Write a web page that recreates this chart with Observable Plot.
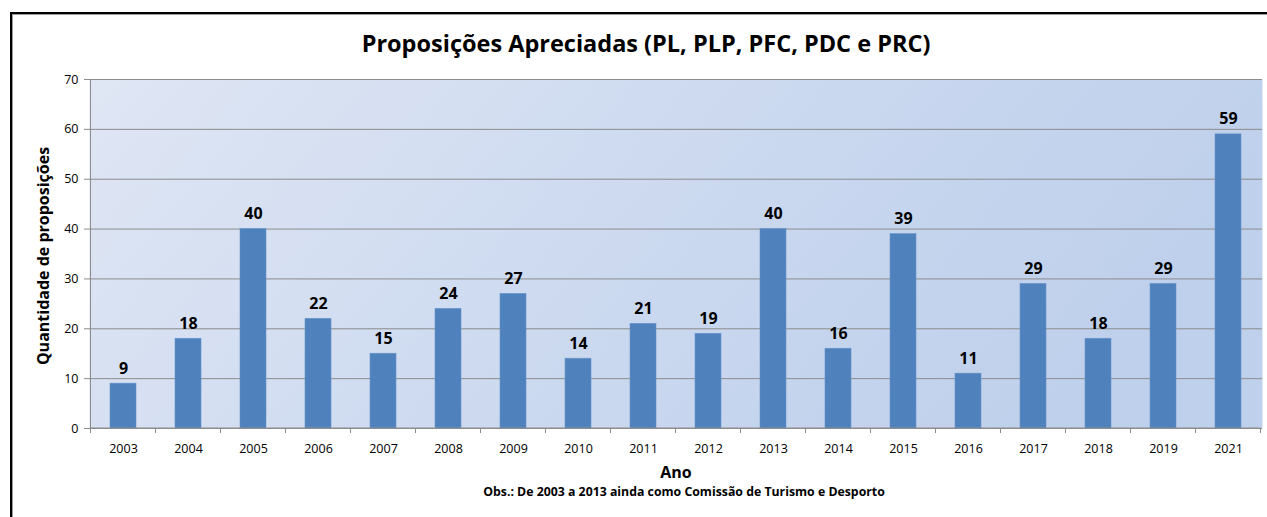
<!DOCTYPE html>
<html>
<head>
<meta charset="utf-8">
<script src="https://cdn.jsdelivr.net/npm/d3@7"></script>
<script src="https://cdn.jsdelivr.net/npm/@observablehq/plot@0.6"></script>
<style>
  html, body { margin: 0; padding: 0; background: #fff; }
  #wrap { position: relative; width: 1267px; height: 517px; overflow: hidden; }
  #border { position: absolute; left: 10px; top: 12px; right: -10px; bottom: -10px;
            border-left: 2px solid #000; border-top: 2px solid #000;
            box-shadow: inset 1px 1px 0 #9a9a9a; pointer-events: none; }
  #chart { position: absolute; left: 0; top: 0; }
</style>
</head>
<body>
<div id="wrap"><div id="chart"></div><div id="border"></div></div>
<script>
const years = ["2003","2004","2005","2006","2007","2008","2009","2010","2011","2012","2013","2014","2015","2016","2017","2018","2019","2021"];
const values = [9,18,40,22,15,24,27,14,21,19,40,16,39,11,29,18,29,59];
const yTicks = [0,10,20,30,40,50,60,70];
const title = "Proposições Apreciadas (PL, PLP, PFC, PDC e PRC)";
const xLabel = "Ano";
const yLabel = "Quantidade de proposições";
const note = "Obs.: De 2003 a 2013 ainda como Comissão de Turismo e Desporto";

const data = years.map((y, i) => ({year: y, value: values[i]}));
const FONT = "'Open Sans', sans-serif";

function gradDefs() {
  const defs = d3.create("svg:defs");
  const g = defs.append("linearGradient").attr("id", "bgGrad")
    .attr("x1", "0").attr("y1", "0").attr("x2", "1").attr("y2", "0.25");
  g.append("stop").attr("offset", "0%").attr("stop-color", "#dfe6f4");
  g.append("stop").attr("offset", "60%").attr("stop-color", "#cad8ef");
  g.append("stop").attr("offset", "100%").attr("stop-color", "#bfd0ec");
  return defs.node();
}

const plot = Plot.plot({
  width: 1267,
  height: 517,
  marginLeft: 89,
  marginRight: 5,
  marginTop: 79,
  marginBottom: 89,
  style: {fontFamily: FONT, fontSize: "12px", color: "#000", background: "transparent"},
  x: {domain: years, paddingInner: 0.6, paddingOuter: 0.3, label: null},
  y: {domain: [0, 70], label: null},
  marks: [
    gradDefs,
    Plot.frame({fill: "url(#bgGrad)", stroke: null}),
    Plot.ruleY(yTicks, {stroke: "#8c8c8c", strokeWidth: 1}),
    Plot.barY(data, {x: "year", y: "value", fill: "#4f81bd", stroke: "#6a95c8", strokeWidth: 0.6}),
    Plot.text(data, {x: "year", y: "value", text: d => String(d.value), lineAnchor: "bottom", dy: -10,
                     fontSize: 16, fontWeight: "bold", fill: "#000"}),
    Plot.axisY({ticks: yTicks, tickSize: 5, tickPadding: 6, stroke: "#8c8c8c", fontSize: 12.5, label: null}),
    Plot.axisX({tickSize: 0, tickPadding: 16, fontSize: 12.5, label: null}),
    Plot.text([title], {frameAnchor: "top", dx: -30, dy: -35, fontSize: 23.5, fontWeight: "bold", lineAnchor: "middle", fill: "#000"}),
    Plot.text([xLabel], {frameAnchor: "bottom", dy: 44, fontSize: 16, fontWeight: "bold", lineAnchor: "middle", fill: "#000"}),
    Plot.text([note], {frameAnchor: "bottom", dx: 8, dy: 64, fontSize: 12.3, fontWeight: "bold", lineAnchor: "middle", fill: "#000"}),
    Plot.text([yLabel], {frameAnchor: "left", dx: -46, dy: 2, rotate: -90, textAnchor: "middle", fontSize: 16, fontWeight: "bold", lineAnchor: "middle", fill: "#000"})
  ]
});

document.getElementById("chart").appendChild(plot);

// Axis lines and category boundary ticks, positioned with the plot's own scales
const xs = plot.scale("x");
const ysc = plot.scale("y");
const svg = d3.select(plot);
const step = xs.step || (xs.bandwidth / (1 - 0.6));
const y0 = ysc.apply(0);
const yTop = ysc.apply(70);
const bounds = years.map(y => xs.apply(y) - step * 0.3);
bounds.push(xs.apply(years[years.length - 1]) + xs.bandwidth + step * 0.3);
const g = svg.append("g").attr("stroke", "#8c8c8c").attr("stroke-width", 1);
g.append("line").attr("x1", bounds[0]).attr("x2", bounds[0]).attr("y1", yTop).attr("y2", y0);
g.append("line").attr("x1", bounds[0]).attr("x2", bounds[bounds.length - 1]).attr("y1", y0).attr("y2", y0);
bounds.forEach(b => g.append("line").attr("x1", b).attr("x2", b).attr("y1", y0).attr("y2", y0 + 5));
</script>
</body>
</html>
